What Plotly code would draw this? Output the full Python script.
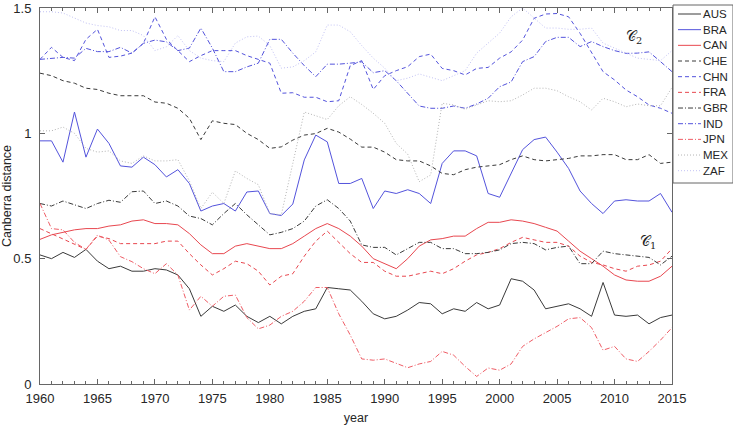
"""
Canberra distance by country, 1960-2015.
"""

import plotly.graph_objects as go

years = list(range(1960, 2016))

AUS = [0.515, 0.50, 0.525, 0.505, 0.537, 0.49, 0.46, 0.47, 0.45, 0.45,
       0.46, 0.455, 0.435, 0.38, 0.27, 0.31, 0.29, 0.315, 0.27, 0.245,
       0.27, 0.24, 0.27, 0.29, 0.30, 0.385, 0.38, 0.375, 0.33, 0.28,
       0.26, 0.27, 0.295, 0.325, 0.32, 0.28, 0.30, 0.29, 0.325, 0.30,
       0.315, 0.42, 0.41, 0.375, 0.30, 0.31, 0.32, 0.30, 0.27, 0.405,
       0.275, 0.27, 0.275, 0.24, 0.265, 0.275]
BRA = [0.97, 0.97, 0.885, 1.085, 0.905, 1.017, 0.96, 0.87, 0.865, 0.905,
       0.875, 0.826, 0.855, 0.80, 0.69, 0.71, 0.72, 0.69, 0.766, 0.77,
       0.68, 0.672, 0.718, 0.894, 0.993, 0.966, 0.80, 0.80, 0.82, 0.70,
       0.77, 0.76, 0.775, 0.76, 0.72, 0.88, 0.93, 0.93, 0.91, 0.76,
       0.745, 0.84, 0.935, 0.975, 0.985, 0.925, 0.86, 0.77, 0.72, 0.68,
       0.73, 0.735, 0.73, 0.73, 0.76, 0.685]
CAN = [0.577, 0.595, 0.605, 0.615, 0.62, 0.62, 0.63, 0.635, 0.65, 0.655,
       0.64, 0.64, 0.635, 0.60, 0.555, 0.52, 0.52, 0.55, 0.56, 0.55,
       0.54, 0.54, 0.56, 0.59, 0.62, 0.64, 0.62, 0.59, 0.55, 0.50,
       0.48, 0.46, 0.50, 0.55, 0.575, 0.58, 0.59, 0.59, 0.62, 0.645,
       0.645, 0.655, 0.65, 0.64, 0.625, 0.61, 0.57, 0.53, 0.50, 0.47,
       0.435, 0.415, 0.41, 0.41, 0.43, 0.47]
CHE = [1.24, 1.23, 1.21, 1.20, 1.18, 1.175, 1.16, 1.15, 1.15, 1.15,
       1.125, 1.12, 1.10, 1.06, 0.975, 1.05, 1.04, 1.035, 1.00, 0.975,
       0.94, 0.946, 0.973, 0.993, 0.999, 1.02, 1.005, 0.977, 0.945, 0.945,
       0.925, 0.895, 0.89, 0.89, 0.87, 0.84, 0.835, 0.855, 0.865, 0.87,
       0.875, 0.895, 0.91, 0.895, 0.89, 0.895, 0.90, 0.91, 0.91, 0.915,
       0.915, 0.895, 0.895, 0.915, 0.88, 0.885]
CHN = [1.295, 1.343, 1.303, 1.29, 1.375, 1.415, 1.303, 1.308, 1.32, 1.359,
       1.465, 1.375, 1.33, 1.286, 1.31, 1.33, 1.33, 1.33, 1.31, 1.295,
       1.28, 1.16, 1.162, 1.144, 1.144, 1.126, 1.13, 1.27, 1.29, 1.175,
       1.23, 1.25, 1.266, 1.306, 1.316, 1.259, 1.25, 1.233, 1.259, 1.263,
       1.30, 1.325, 1.372, 1.459, 1.476, 1.478, 1.465, 1.399, 1.32, 1.246,
       1.213, 1.173, 1.146, 1.113, 1.10, 1.08]
FRA = [0.62, 0.60, 0.578, 0.56, 0.537, 0.59, 0.58, 0.56, 0.56, 0.56,
       0.56, 0.57, 0.57, 0.52, 0.475, 0.435, 0.46, 0.49, 0.48, 0.45,
       0.395, 0.43, 0.44, 0.51, 0.57, 0.61, 0.565, 0.52, 0.485, 0.485,
       0.45, 0.43, 0.43, 0.44, 0.45, 0.44, 0.46, 0.49, 0.515, 0.525,
       0.54, 0.565, 0.585, 0.575, 0.565, 0.565, 0.55, 0.51, 0.485, 0.475,
       0.46, 0.45, 0.47, 0.475, 0.49, 0.54]
GBR = [0.72, 0.71, 0.73, 0.715, 0.70, 0.72, 0.733, 0.725, 0.767, 0.77,
       0.72, 0.73, 0.71, 0.67, 0.66, 0.635, 0.68, 0.72, 0.675, 0.635,
       0.595, 0.605, 0.62, 0.65, 0.71, 0.735, 0.70, 0.65, 0.555, 0.545,
       0.545, 0.515, 0.54, 0.565, 0.565, 0.54, 0.54, 0.52, 0.52, 0.525,
       0.535, 0.56, 0.565, 0.56, 0.535, 0.545, 0.55, 0.48, 0.48, 0.53,
       0.52, 0.515, 0.51, 0.505, 0.475, 0.51]
IND = [1.295, 1.30, 1.303, 1.30, 1.339, 1.326, 1.326, 1.343, 1.32, 1.359,
       1.372, 1.365, 1.33, 1.34, 1.42, 1.34, 1.246, 1.246, 1.265, 1.28,
       1.375, 1.375, 1.32, 1.27, 1.226, 1.276, 1.276, 1.28, 1.285, 1.242,
       1.25, 1.21, 1.16, 1.109, 1.10, 1.10, 1.109, 1.10, 1.117, 1.14,
       1.186, 1.205, 1.286, 1.306, 1.366, 1.383, 1.383, 1.346, 1.366, 1.346,
       1.33, 1.319, 1.32, 1.325, 1.286, 1.246]
JPN = [0.72, 0.62, 0.615, 0.565, 0.537, 0.594, 0.574, 0.508, 0.488, 0.46,
       0.44, 0.48, 0.435, 0.295, 0.35, 0.31, 0.35, 0.355, 0.265, 0.22,
       0.235, 0.27, 0.29, 0.33, 0.385, 0.385, 0.28, 0.195, 0.10, 0.095,
       0.10, 0.083, 0.065, 0.08, 0.09, 0.13, 0.115, 0.07, 0.03, 0.064,
       0.055, 0.08, 0.15, 0.18, 0.205, 0.23, 0.26, 0.265, 0.225, 0.135,
       0.15, 0.10, 0.09, 0.13, 0.175, 0.225]
MEX = [1.01, 1.01, 1.025, 1.00, 0.94, 0.925, 0.93, 0.89, 0.88, 0.91,
       0.89, 0.89, 0.895, 0.81, 0.70, 0.765, 0.72, 0.85, 0.82, 0.795,
       0.68, 0.675, 0.88, 1.085, 1.07, 1.055, 1.11, 1.146, 1.115, 1.08,
       1.04, 0.96, 0.917, 0.807, 0.834, 1.12, 1.113, 1.096, 1.113, 1.13,
       1.126, 1.13, 1.153, 1.18, 1.18, 1.17, 1.146, 1.126, 1.093, 1.14,
       1.126, 1.106, 1.117, 1.11, 1.11, 1.183]
ZAF = [1.485, 1.485, 1.48, 1.46, 1.44, 1.43, 1.425, 1.41, 1.41, 1.39,
       1.33, 1.345, 1.39, 1.33, 1.30, 1.29, 1.286, 1.36, 1.385, 1.388,
       1.35, 1.26, 1.265, 1.29, 1.325, 1.432, 1.432, 1.405, 1.35, 1.30,
       1.26, 1.21, 1.22, 1.237, 1.225, 1.21, 1.23, 1.25, 1.32, 1.36,
       1.40, 1.465, 1.50, 1.46, 1.42, 1.42, 1.415, 1.415, 1.42, 1.36,
       1.34, 1.32, 1.30, 1.295, 1.29, 1.33]

BLACK = "#3a3a3a"
BLUE  = "#5353dc"
RED   = "#e8474f"

# short MATLAB-like dash patterns
SOLID   = "solid"
DASH    = "4px,3px"
DASHDOT = "5px,2px,1px,2px"
DOT     = "1px,2px"

series = [
    ("AUS", AUS, BLACK,     SOLID),
    ("BRA", BRA, BLUE,      SOLID),
    ("CAN", CAN, RED,       SOLID),
    ("CHE", CHE, BLACK,     DASH),
    ("CHN", CHN, BLUE,      DASH),
    ("FRA", FRA, RED,       DASH),
    ("GBR", GBR, BLACK,     DASHDOT),
    ("IND", IND, BLUE,      DASHDOT),
    ("JPN", JPN, "#ef5d66", DASHDOT),
    ("MEX", MEX, "#b4b4b4", DOT),
    ("ZAF", ZAF, "#c2c2f4", DOT),
]

fig = go.Figure()
for name, vals, color, dash in series:
    fig.add_trace(go.Scatter(
        x=years, y=vals, name=name, mode="lines",
        line=dict(color=color, width=1, dash=dash),
    ))

# cluster labels
fig.add_annotation(x=2011.7, y=1.385, text="𝒞<sub>2</sub>", showarrow=False,
                   font=dict(family="DejaVu Serif", size=14, color="#222"))
fig.add_annotation(x=2012.9, y=0.566, text="𝒞<sub>1</sub>", showarrow=False,
                   font=dict(family="DejaVu Serif", size=14, color="#222"))

# compact boxed legend to the right of the axes (paper coords; plot = 632x376 px)
PW, PH = 632.0, 376.0
box_x0, box_x1 = 1 + 1 / PW, 1 + 61 / PW
box_y0, box_y1 = 1 - 175 / PH, 1 + 3 / PH
fig.add_shape(type="rect", xref="paper", yref="paper",
              x0=box_x0, x1=box_x1, y0=box_y0, y1=box_y1,
              line=dict(color="#666", width=1), fillcolor="white")
for i, (name, _, color, dash) in enumerate(series):
    yy = 1 + 6 / PH - (15.67 * i + 12) / PH
    fig.add_shape(type="line", xref="paper", yref="paper",
                  x0=1 + 6 / PW, x1=1 + 29 / PW, y0=yy, y1=yy,
                  line=dict(color=color, width=1, dash=dash))
    fig.add_annotation(xref="paper", yref="paper", x=1 + 29 / PW, y=yy,
                       text=name, showarrow=False, xanchor="left",
                       yanchor="middle", font=dict(size=11.5, color="#262626"))

axis_common = dict(
    showline=True, linecolor="#666", linewidth=1, mirror="ticks",
    ticks="inside", tickcolor="#666", ticklen=5,
    showgrid=False, zeroline=False, automargin=False,
    tickfont=dict(size=13, color="#262626"),
)

fig.update_layout(
    width=733, height=426,
    margin=dict(l=40, r=61, t=8, b=42),
    paper_bgcolor="white", plot_bgcolor="white",
    font=dict(family="Liberation Sans, Arial, sans-serif", color="#262626"),
    xaxis=dict(
        **axis_common,
        range=[1960, 2015],
        tickvals=list(range(1960, 2016, 5)),
        ticklabelstandoff=2,
        minor=dict(dtick=1, ticks="inside", ticklen=3, tickcolor="#666"),
        title=dict(text="year", font=dict(size=12.5), standoff=8),
    ),
    yaxis=dict(
        **axis_common,
        range=[0, 1.5],
        tickvals=[0, 0.5, 1, 1.5],
        ticktext=["0", "0.5", "1", "1.5"],
        ticklabelstandoff=5,
        title=dict(text="Canberra distance", font=dict(size=12.5), standoff=2),
    ),
    showlegend=False,
)

# the page body has a default 8px margin; drop it so the figure sits at the origin
fig.write_html("out.html", config={"displayModeBar": False},
               post_script="document.body.style.margin='0';")
